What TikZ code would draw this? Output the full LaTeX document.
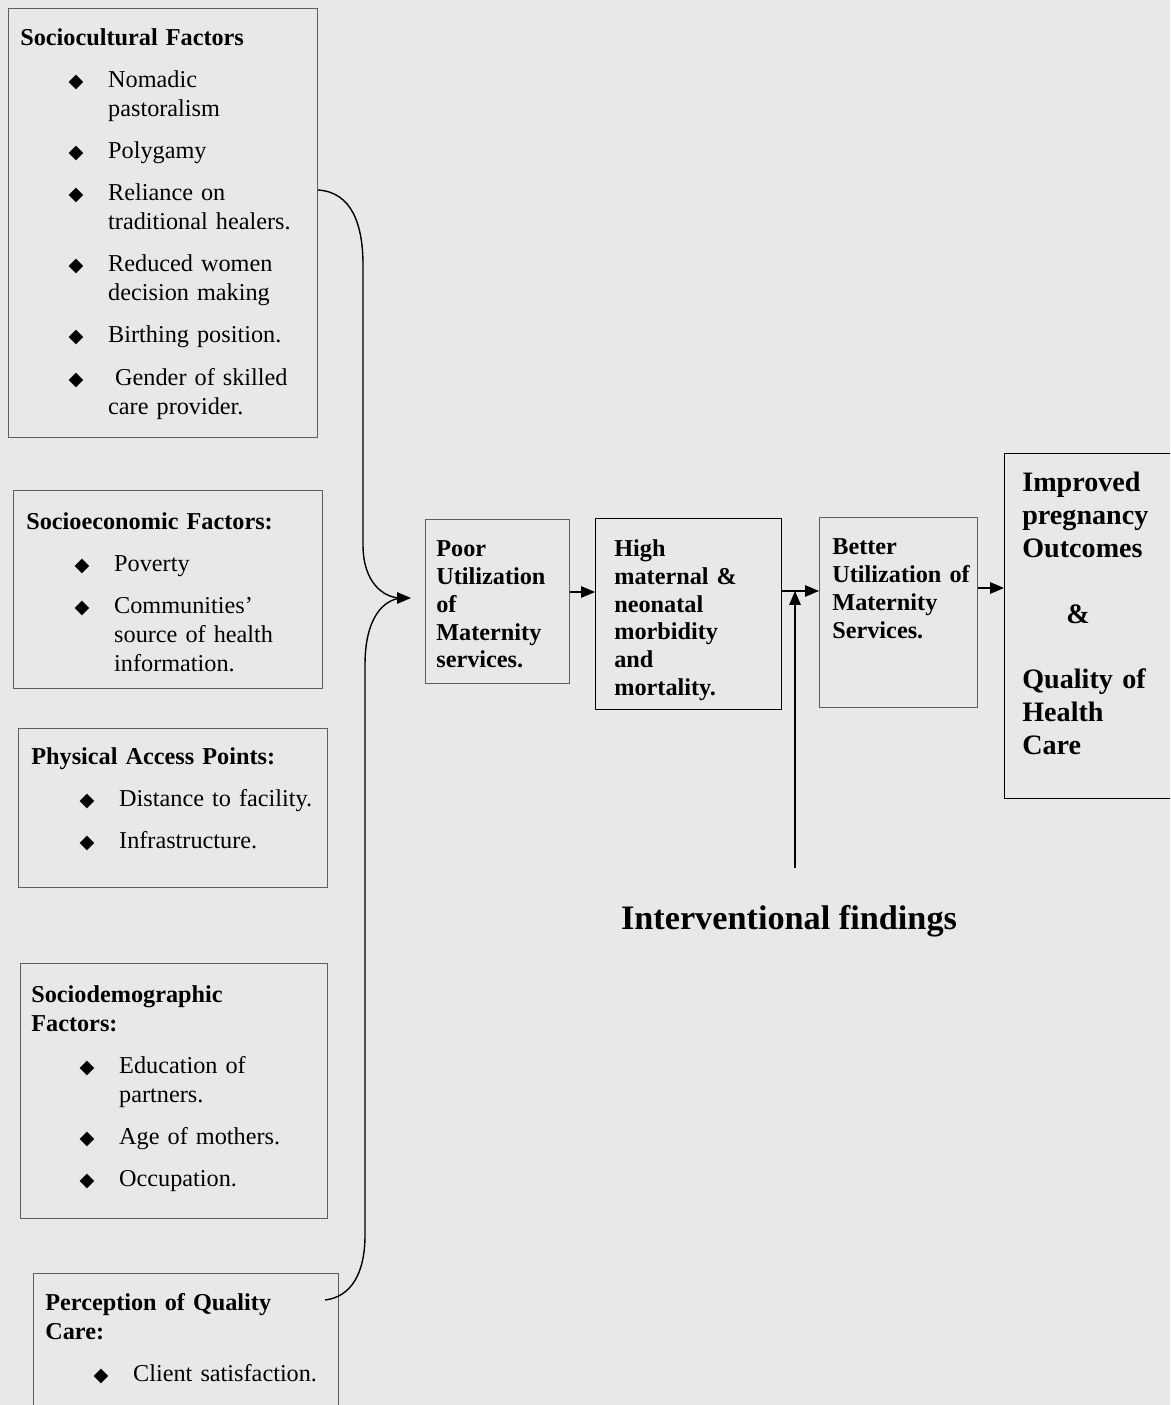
\documentclass[tikz,border=0pt]{standalone}
\usepackage{fontspec}
\setmainfont{Liberation Serif}
\newfontfamily\dingfont{DejaVu Sans}
\usepackage{tikz}
\usetikzlibrary{positioning}
\usetikzlibrary{arrows}

\definecolor{paper}{RGB}{232,232,232}
\definecolor{boxgray}{RGB}{95,95,95}

% one bullet line of a factor list
\newcommand{\fitem}[1]{\par\leftskip=50pt\noindent\llap{{\dingfont\fontsize{11}{11}\selectfont ◆}\hspace{14pt}}#1\par}

\begin{document}
\begin{tikzpicture}[x=0.02cm,y=-0.02cm,>=triangle 45,
    factor/.style={draw=boxgray,line width=0.5pt,anchor=north west,inner sep=0pt},
    factortxt/.style={anchor=north west,inner sep=0pt,text width=5.9cm,align=left,
        font=\fontsize{13.8}{16.5}\selectfont,
        execute at begin node={\setlength{\parskip}{7.5pt}}},
    stage/.style={draw=boxgray,line width=0.5pt,anchor=north west,inner sep=0pt},
    stagetxt/.style={anchor=north west,inner sep=0pt,text width=3.3cm,align=left,
        font=\fontsize{13.8}{15.9}\selectfont\bfseries},
    link/.style={line width=0.8pt}]
    \clip (0,0) rectangle (1170,1405);
    \fill[paper] (0,0) rectangle (1170,1405);

    % factor boxes on the left
    \node[factor,minimum width=6.18cm,minimum height=8.58cm] (cult) at (8,8) {};
    \node[factortxt] (culttxt) [below right=0.4cm and 0.24cm of cult.north west] {\textbf{Sociocultural Factors}
        \fitem{Nomadic\newline pastoralism}
        \fitem{Polygamy}
        \fitem{Reliance on\newline traditional healers.}
        \fitem{Reduced women\newline decision making}
        \fitem{Birthing position.}
        \fitem{\hspace{4pt}Gender of skilled\newline care provider.}};

    \node[factor,minimum width=6.18cm,minimum height=3.96cm] (econ) at (13,490) {};
    \node[factortxt] (econtxt) [below right=0.44cm and 0.26cm of econ.north west] {\textbf{Socioeconomic Factors:}
        \fitem{Poverty}
        \fitem{Communities'\newline source of health\newline information.}};

    \node[factor,minimum width=6.18cm,minimum height=3.18cm] (phys) at (18,728) {};
    \node[factortxt] (phystxt) [below right=0.38cm and 0.26cm of phys.north west] {\textbf{Physical Access Points:}
        \fitem{Distance to facility.}
        \fitem{Infrastructure.}};

    \node[factor,minimum width=6.14cm,minimum height=5.10cm] (demo) at (20,963) {};
    \node[factortxt] (demotxt) [below right=0.44cm and 0.22cm of demo.north west] {\textbf{Sociodemographic}\newline\textbf{Factors:}
        \fitem{Education of\newline partners.}
        \fitem{Age of mothers.}
        \fitem{Occupation.}};

    \node[factor,minimum width=6.10cm,minimum height=3.6cm] (qual) at (33,1273) {};
    \node[factortxt] (qualtxt) [below right=0.4cm and 0.24cm of qual.north west] {\textbf{Perception of Quality}\newline\textbf{Care:}
        \fitem{Client satisfaction.}};

    % chain of stages
    \node[stage,minimum width=2.88cm,minimum height=3.28cm] (poor) at (425,519) {};
    \node[stagetxt] (poortxt) [below right=0.42cm and 0.22cm of poor.north west] {Poor\\Utilization\\of\\Maternity\\services.};

    \node[stage,draw=black,line width=0.8pt,minimum width=3.72cm,minimum height=3.82cm] (high) at (595,518) {};
    \node[stagetxt] (hightxt) [below right=0.42cm and 0.38cm of high.north west] {High\\maternal \&\\neonatal\\morbidity\\and\\mortality.};

    \node[stage,minimum width=3.16cm,minimum height=3.80cm] (better) at (819,517) {};
    \node[stagetxt] (bettertxt) [below right=0.42cm and 0.26cm of better.north west] {Better\\Utilization of\\Maternity\\Services.};

    \node[stage,draw=black,line width=0.8pt,minimum width=3.8cm,minimum height=6.9cm] (outcome) at (1004,453) {};
    \node[stagetxt,font=\fontsize{16}{18.7}\selectfont\bfseries] (outcometxt) [below right=0.38cm and 0.36cm of outcome.north west]
        {Improved\\pregnancy\\Outcomes\\[18.7pt]\hspace*{25pt}\&\\[18.7pt]Quality of\\Health\\Care};

    \node[font=\fontsize{19.5}{22}\selectfont\bfseries] (interv) at (789,921) {Interventional findings};

    % brace gathering the factors
    \coordinate (tip) at (401,598);
    \coordinate (tipend) at (411,598);
    \draw[link] (cult.east |- 0,190) .. controls (352,192) and (363,225) .. (363,265) -- (363,545)
        .. controls (363,582) and (383,598) .. (tip);
    \draw[link] (tip) .. controls (383,600) and (365,618) .. (365,665) -- (365,1235)
        .. controls (365,1275) and (350,1297) .. (325,1300);
    \draw[link,->] (tip) -- (tipend);

    % arrows along the chain
    \coordinate (row) at (600,592);
    \coordinate (join) at (795,591);
    \coordinate (outrow) at (990,588);
    \coordinate (findtop) at (795,868);
    \draw[link,->] (poor.east |- row) -- (high.west |- row);
    \draw[link,->] (high.east |- join) -- (better.west |- join);
    \draw[link,->] (findtop) -- (join);
    \draw[link,->] (better.east |- outrow) -- (outcome.west |- outrow);
\end{tikzpicture}
\end{document}
